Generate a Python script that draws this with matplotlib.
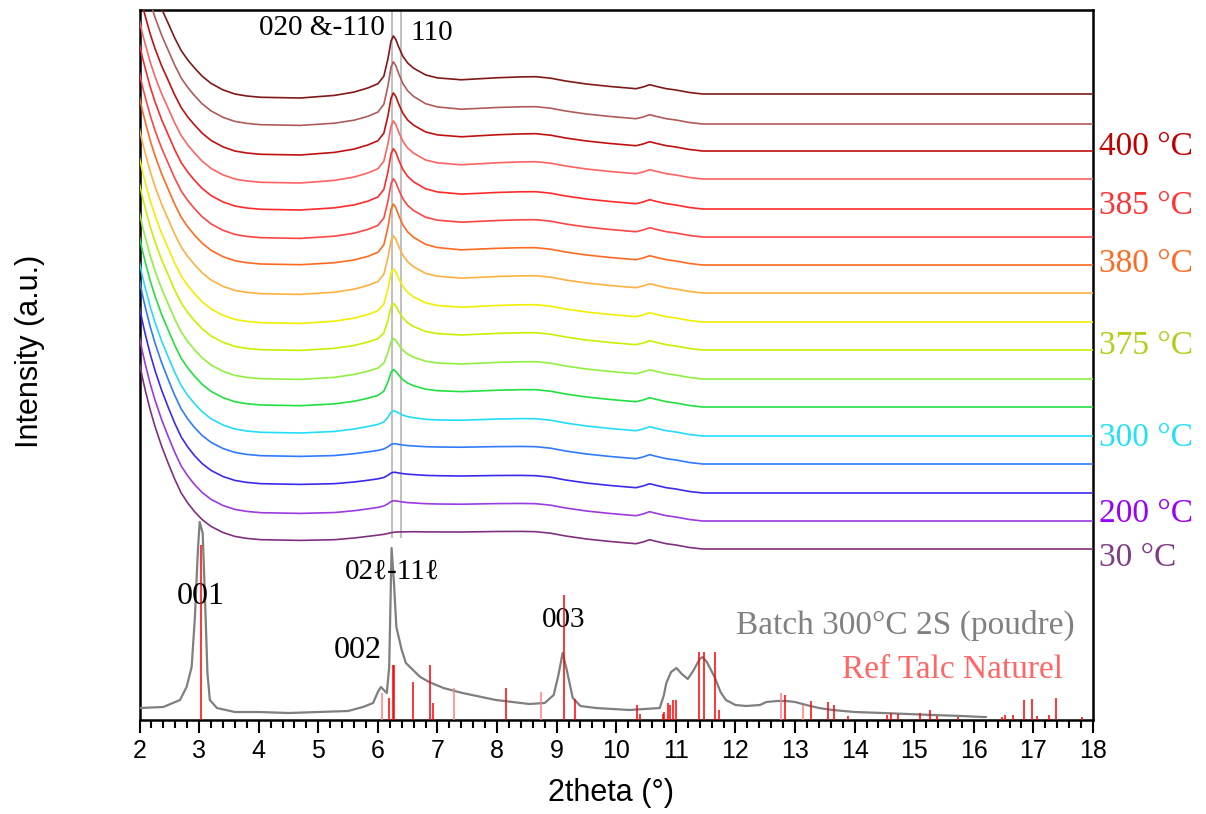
import numpy as np
import matplotlib
matplotlib.use("Agg")
import matplotlib.pyplot as plt

# --- donnees ---
# profil commun des courbes empilees (x en 2theta, y relatif a la ligne de base)
x_anchor = [2.0, 2.05, 2.1, 2.18, 2.26,
            2.37, 2.48, 2.59, 2.7, 2.81,
            2.92, 3.05, 3.2, 3.4, 3.6,
            3.8, 4.04, 4.7, 5.27, 5.6,
            5.83, 6.0, 6.1, 6.17, 6.22,
            6.26, 6.3, 6.35, 6.42, 6.5,
            6.6, 6.8, 7.0, 7.4, 8.0,
            8.4, 8.65, 8.9, 9.15, 9.5,
            9.9, 10.33, 10.45, 10.56, 10.68,
            10.84, 11.0, 11.23, 11.45]
fond = [186, 171, 158, 139, 122.6,
        103, 86, 70, 56, 46,
        37.6, 29.5, 22.6, 16.5, 12.6,
        10.6, 9.3, 8.6, 9.3, 11,
        12.6, 13.8, 14.5, 15, 15.4,
        15.7, 16, 16.3, 16.6, 16.8,
        17, 17, 17, 17, 17.5,
        17.6, 17.3, 15.8, 13, 10,
        7.5, 5.3, 7, 9.3, 7.5,
        5.3, 4, 1.5, 0]
pic = [0, 0, 0, 0, 0,
       0, 0, 0, 0, 0,
       0, 0, 0, 0, 0,
       0, 0, 0, 0, 0,
       0.02, 0.07, 0.2, 0.55, 0.9,
       1.0, 0.92, 0.75, 0.55, 0.4,
       0.28, 0.13, 0.06, 0, 0,
       0, 0, 0, 0, 0,
       0, 0, 0, 0, 0,
       0, 0, 0, 0]
creux = [2.2, 2.05, 1.9, 1.75, 1.6,
         1.4, 1.2, 1.1, 1.0, 0.95,
         0.9, 0.92, 0.95, 0.98, 1.0,
         1.0, 1.0, 1.0, 0.85, 0.72,
         0.6, 0.55, 0.5, 0.48, 0.46,
         0.45, 0.44, 0.43, 0.42, 0.4,
         0.37, 0.33, 0.3, 0.22, 0.1,
         0.04, 0, 0, 0, 0,
         0, 0, 0, 0, 0,
         0, 0, 0, 0]

# une valeur par courbe, du bas (30 °C) vers le haut
decalage = [171, 199, 227, 256, 284, 313, 341, 370, 398, 427, 455, 483, 511, 541, 569, 596, 626]
hauteur_pic = [1, 5, 5, 5, 12, 25, 29, 35, 42, 46, 49, 47, 49, 48, 48, 51, 48]
profondeur = [0, 1, 0, 1, 5.6, 7.3, 9, 9, 10, 10, 8.3, 10, 9.6, 12.6, 12.6, 10, 12.6]
couleurs = ["#80307f", "#9a3ae0", "#3a2af0", "#2e7bff", "#22ddf8", "#22e040",
            "#90f040", "#c8f000", "#f2ee00", "#ffb040", "#ff6a20", "#ff4545",
            "#ff2a2a", "#ff6262", "#c01010", "#b05a5a", "#801818"]

temp_txt = ["30 °C", "200 °C", "300 °C", "375 °C", "380 °C", "385 °C", "400 °C"]
temp_y = [162.5, 206.5, 282.5, 374, 456, 514, 573]
temp_col = ["#7e3c84", "#9a00f5", "#22e0f5", "#b5cc18", "#ff6a21", "#ff3333", "#c00000"]

# Batch 300°C 2S (poudre)
batch_x = [2.0, 2.4, 2.68, 2.79, 2.875, 2.93, 2.98, 3.01, 3.06, 3.1, 3.14, 3.18, 3.3,
           3.6, 4.0, 4.5, 5.0, 5.5, 5.75, 5.92, 6.0, 6.05, 6.1, 6.15, 6.19, 6.23,
           6.27, 6.31, 6.4, 6.47, 6.71, 6.86, 7.1, 7.42, 7.98, 8.54, 8.8, 8.95,
           9.03, 9.1, 9.17, 9.27, 9.4, 9.66, 10.22, 10.73, 10.8, 10.84, 10.92,
           11.01, 11.1, 11.2, 11.3, 11.4, 11.45, 11.52, 11.65, 11.75, 11.84, 12.0,
           12.18, 12.41, 12.52, 12.7, 12.85, 13.0, 13.19, 13.4, 13.63, 14.0, 14.47,
           15.31, 15.8, 16.15, 16.2]
batch_y = [12, 13, 20, 33, 53, 103, 170, 198, 187, 120, 47, 20, 12,
           8, 8, 7, 8, 9, 13, 17, 28, 33, 30, 27, 53, 172,
           137, 93, 70, 57, 43, 38, 32, 27, 20, 16, 17, 25,
           45, 67, 50, 22, 14, 12, 10, 12, 25, 37, 48,
           52, 46, 41, 50, 61, 63, 58, 43, 28, 20, 15,
           14, 15, 18, 19, 19, 18, 15, 12, 10, 8, 7,
           5, 4, 3, 3]

# Ref Talc Naturel (batons)
ref_x = [3.03, 6.07, 6.18, 6.25, 6.27, 6.59, 6.88, 6.92, 7.27, 8.15, 8.74, 9.12, 9.31,
         10.35, 10.40, 10.78, 10.80, 10.87, 10.91, 10.96, 11.00, 11.39, 11.47, 11.66,
         11.72, 12.76, 12.84, 13.13, 13.27, 13.56, 13.66, 13.89, 14.55, 14.61, 14.73,
         15.09, 15.26, 15.39, 15.74, 16.47, 16.52, 16.66, 16.84, 16.98, 17.06, 17.27,
         17.38, 17.81]
ref_h = [175, 27, 22, 55, 55, 38, 55, 17, 32, 32, 28, 125, 21,
         15, 6, 6, 8, 17, 15, 20, 20, 68, 68, 68,
         10, 27, 25, 15, 19, 18, 15, 4, 5, 7, 6,
         7, 10, 4, 3, 3, 5, 5, 20, 21, 4, 5,
         22, 3]
ref_clair = [6.07, 7.27, 8.74, 12.76, 13.13]

raies_x = [6.233, 6.389]

serif = ["Liberation Serif", "DejaVu Serif"]
plt.rcParams["font.family"] = ["Liberation Sans", "DejaVu Sans"]

fig = plt.figure(figsize=(12.06, 8.14), dpi=100)
ax = fig.add_axes([139.5 / 1206, 1 - 720 / 814, (1093 - 139.5) / 1206, 710 / 814])

# lignes verticales grises
ax.vlines(raies_x, 182, 710, colors="#b4b4b4", lw=1.2, zorder=1)

# courbes empilees
fond_a = np.array(fond)
pic_a = np.array(pic)
creux_a = np.array(creux)
for k in range(len(decalage)):
    y = decalage[k] + fond_a + hauteur_pic[k] * pic_a - profondeur[k] * creux_a
    xx = list(x_anchor) + [18.0]
    yy = list(y) + [decalage[k]]
    ax.plot(xx, yy, color=couleurs[k], lw=1.2, zorder=3)

# diffractogramme du batch
ax.plot(batch_x, batch_y, color="#7f7f7f", lw=1.6, zorder=3)

# reference
col_ref = ["#ff8080" if v in ref_clair else "#ff0000" for v in ref_x]
ax.vlines(ref_x, 0, ref_h, colors=col_ref, lw=1.1, zorder=4)

# textes
for t, yv, c in zip(temp_txt, temp_y, temp_col):
    ax.text(1.006, yv, t, transform=ax.get_yaxis_transform(), color=c,
            fontsize=24, family=serif, ha="left", va="center")

ax.text(6.12, 692, "020 &-110", fontsize=21, family=serif, ha="right", va="center")
ax.text(6.54, 687, "110", fontsize=21, family=serif, ha="left", va="center")
ax.text(3.02, 124, "001", fontsize=23, family=serif, ha="center", va="center")
ax.text(5.67, 70, "002", fontsize=23, family=serif, ha="center", va="center")
ax.text(6.245, 148, "02ℓ-11ℓ", fontsize=21, family=serif, ha="center", va="center")
ax.text(9.12, 100, "003", fontsize=21, family=serif, ha="center", va="center")
ax.text(17.7, 95, "Batch 300°C 2S (poudre)", fontsize=24, family=serif,
        color="#808080", ha="right", va="center")
ax.text(17.5, 50, "Ref Talc Naturel", fontsize=24, family=serif,
        color="#ff6666", ha="right", va="center")

ax.set_xlim(2, 18)
ax.set_ylim(0, 710)
ax.set_xticks(range(2, 19))
ax.set_xticks(np.arange(2, 18.01, 0.2), minor=True)
ax.set_yticks([])
ax.tick_params(axis="x", which="major", direction="out", length=9.5, width=1.5,
               labelsize=18, pad=4)
ax.tick_params(axis="x", which="minor", direction="out", length=5.5, width=1.5)
for s in ax.spines.values():
    s.set_linewidth(1.8)

fig.text(611 / 1206, 1 - 793 / 814, "2theta (°)", fontsize=22, ha="center", va="center")
fig.text(30 / 1206, 1 - 351 / 814, "Intensity (a.u.)", fontsize=22, rotation=90,
         ha="center", va="center")

fig.savefig("out.png", dpi=100)
